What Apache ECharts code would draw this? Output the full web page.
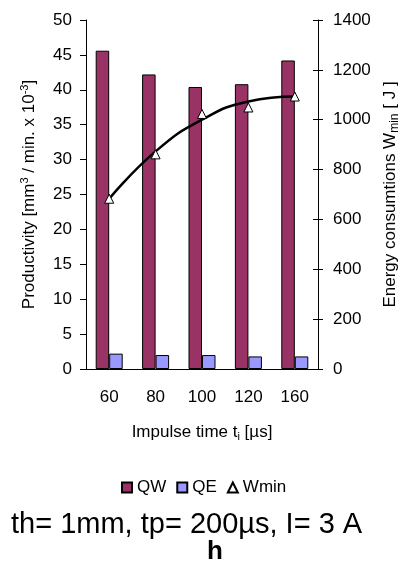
<!DOCTYPE html>
<html>
<head>
<meta charset="utf-8">
<script src="https://cdn.jsdelivr.net/npm/echarts@6/dist/echarts.min.js"></script>
<style>
  html, body { margin: 0; padding: 0; background: #fff; }
  #chart { width: 409px; height: 563px; }
</style>
</head>
<body>
<div id="chart"></div>
<script>
// 数据
var categories = ['60', '80', '100', '120', '160'];
var qwValues = [45.6, 42.2, 40.4, 40.8, 44.2];
var qeValues = [2.2, 2.0, 2.0, 1.8, 1.8];
var wminValues = [683, 861, 1023, 1049, 1093];
var wminTrend = [683, 873, 1000, 1073, 1093];
var leftTicks = [0, 50, 5];
var rightTicks = [0, 1400, 200];

var font = 'Liberation Sans, Arial, sans-serif';

// 绘制图表
var chart = echarts.init(document.getElementById('chart'));
chart.setOption({
    animation: false,
    textStyle: { fontFamily: font, color: '#000' },
    title: [
        {
            text: 'th= 1mm, tp= 200µs, I= 3 A',
            left: 6, top: 505,
            textStyle: { fontFamily: font, fontSize: 29, fontWeight: 'normal', color: '#000' }
        },
        {
            text: 'h',
            left: 202, top: 534,
            textStyle: { fontFamily: font, fontSize: 26, fontWeight: 'bold', color: '#000' }
        }
    ],
    legend: {
        top: 474, left: 116,
        itemWidth: 10, itemHeight: 10, itemGap: 10,
        textStyle: { fontFamily: font, fontSize: 17, color: '#000' },
        data: [
            { name: 'QW', icon: 'rect' },
            { name: 'QE', icon: 'rect' },
            { name: 'Wmin', icon: 'triangle' }
        ]
    },
    grid: { left: 86, right: 91, top: 20, bottom: 194 },
    xAxis: [
        {
            type: 'category',
            data: categories,
            name: 'Impulse time t{sub|i} [µs]',
            nameLocation: 'middle',
            nameGap: 54,
            nameTextStyle: {
                fontFamily: font, fontSize: 17, color: '#000',
                rich: { sub: { fontSize: 11, padding: [8, 0, 0, 0] } }
            },
            axisLine: { lineStyle: { color: '#000', width: 1 } },
            axisTick: { length: 6, lineStyle: { color: '#000' } },
            axisLabel: { fontSize: 17, color: '#000', margin: 20 }
        },
        {
            type: 'category',
            data: categories,
            position: 'bottom',
            axisLine: { show: false },
            axisTick: { inside: true, length: 5, lineStyle: { color: '#000' } },
            axisLabel: { show: false }
        }
    ],
    yAxis: [
        {
            type: 'value',
            min: leftTicks[0], max: leftTicks[1], interval: leftTicks[2],
            name: 'Productivity [mm{sup|3} / min. x 10{sup|-3}]',
            nameLocation: 'middle',
            nameGap: 46,
            nameTextStyle: {
                fontFamily: font, fontSize: 17, color: '#000',
                rich: { sup: { fontSize: 11, padding: [0, 0, 10, 0] } }
            },
            axisLine: { show: true, lineStyle: { color: '#000' } },
            axisTick: { show: true, length: 6, lineStyle: { color: '#000' } },
            axisLabel: { fontSize: 17, color: '#000', margin: 14 },
            splitLine: { show: false }
        },
        {
            type: 'value',
            position: 'right',
            min: rightTicks[0], max: rightTicks[1], interval: rightTicks[2],
            name: 'Energy consumtions W{sub|min} [ J ]',
            nameLocation: 'middle',
            nameGap: 62,
            nameTextStyle: {
                fontFamily: font, fontSize: 17, color: '#000',
                rich: { sub: { fontSize: 12, padding: [8, 0, 0, 0] } }
            },
            axisLine: { show: true, lineStyle: { color: '#000' } },
            axisTick: { show: true, length: 5, lineStyle: { color: '#000' } },
            axisLabel: {
                fontSize: 17, color: '#000', margin: 15,
                formatter: function (v) { return String(v); }
            },
            splitLine: { show: false }
        },
        {
            type: 'value',
            position: 'right',
            min: rightTicks[0], max: rightTicks[1], interval: rightTicks[2],
            axisLine: { show: false },
            axisTick: { show: true, inside: true, length: 5, lineStyle: { color: '#000' } },
            axisLabel: { show: false },
            splitLine: { show: false }
        }
    ],
    series: [
        {
            name: 'QW', type: 'bar',
            data: qwValues,
            barWidth: 13.5, barGap: '0%',
            itemStyle: { color: '#993366', borderColor: '#000', borderWidth: 1 }
        },
        {
            name: 'QE', type: 'bar',
            data: qeValues,
            barWidth: 13.5, barGap: '0%',
            itemStyle: { color: '#9999ff', borderColor: '#000', borderWidth: 1 }
        },
        {
            name: 'trend', type: 'line',
            yAxisIndex: 1,
            data: wminTrend,
            smooth: 0.5,
            showSymbol: false,
            lineStyle: { color: '#000', width: 2.5 },
            z: 3
        },
        {
            name: 'Wmin', type: 'line',
            yAxisIndex: 1,
            data: wminValues,
            symbol: 'triangle', symbolSize: 9,
            lineStyle: { width: 0, opacity: 0 },
            itemStyle: { color: '#fff', borderColor: '#000', borderWidth: 1 },
            z: 4
        }
    ]
});
</script>
</body>
</html>
